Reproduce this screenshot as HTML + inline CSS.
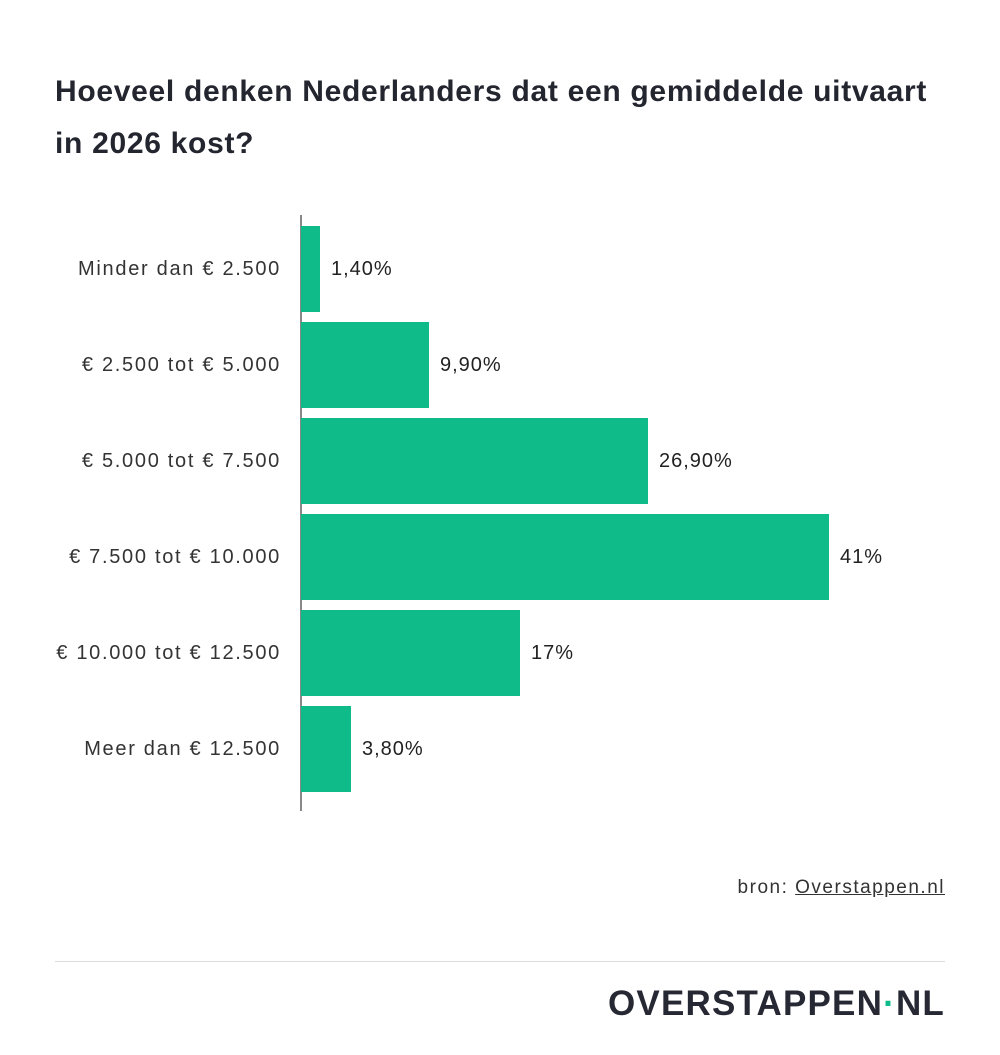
<!DOCTYPE html>
<html><head><style>
body{margin:0;background:#fff;width:1000px;height:1055px;position:relative;font-family:"Liberation Sans",sans-serif;overflow:hidden}
.t{position:absolute;left:55px;top:66px;font-size:30px;font-weight:bold;color:#23252f;line-height:52px;letter-spacing:0.7px}
.lab{position:absolute;right:719px;font-size:20px;color:#333;white-space:nowrap;line-height:20px;letter-spacing:1.7px}
.bar{position:absolute;left:301px;height:86px;background:#0fbb89}
.v{position:absolute;font-size:20px;color:#222;line-height:20px;letter-spacing:1px}
</style></head><body>
<div class="t">Hoeveel denken Nederlanders dat een gemiddelde uitvaart<br>in 2026 kost?</div>
<div style="position:absolute;left:300px;top:215px;width:2px;height:596px;background:#888"></div>

<div class="bar" style="top:226px;width:19px"></div>
<div class="bar" style="top:322px;width:128px"></div>
<div class="bar" style="top:418px;width:347px"></div>
<div class="bar" style="top:514px;width:528px"></div>
<div class="bar" style="top:610px;width:219px"></div>
<div class="bar" style="top:706px;width:50px"></div>

<div class="lab" style="top:259px">Minder dan € 2.500</div>
<div class="lab" style="top:355px">€ 2.500 tot € 5.000</div>
<div class="lab" style="top:451px">€ 5.000 tot € 7.500</div>
<div class="lab" style="top:547px">€ 7.500 tot € 10.000</div>
<div class="lab" style="top:643px">€ 10.000 tot € 12.500</div>
<div class="lab" style="top:739px">Meer dan € 12.500</div>

<div class="v" style="top:259px;left:331px">1,40%</div>
<div class="v" style="top:355px;left:440px">9,90%</div>
<div class="v" style="top:451px;left:659px">26,90%</div>
<div class="v" style="top:547px;left:840px">41%</div>
<div class="v" style="top:643px;left:531px">17%</div>
<div class="v" style="top:739px;left:362px">3,80%</div>

<div style="position:absolute;right:55px;top:877px;font-size:19px;color:#333;letter-spacing:1.5px">bron: <span style="text-decoration:underline">Overstappen.nl</span></div>
<div style="position:absolute;left:55px;top:961px;width:890px;height:1px;background:#ddd"></div>
<div style="position:absolute;right:55px;top:986px;font-size:35px;font-weight:bold;color:#262833;letter-spacing:1.2px;line-height:36px">OVERSTAPPEN<span style="color:#0fbb89">·</span>NL</div>
</body></html>
